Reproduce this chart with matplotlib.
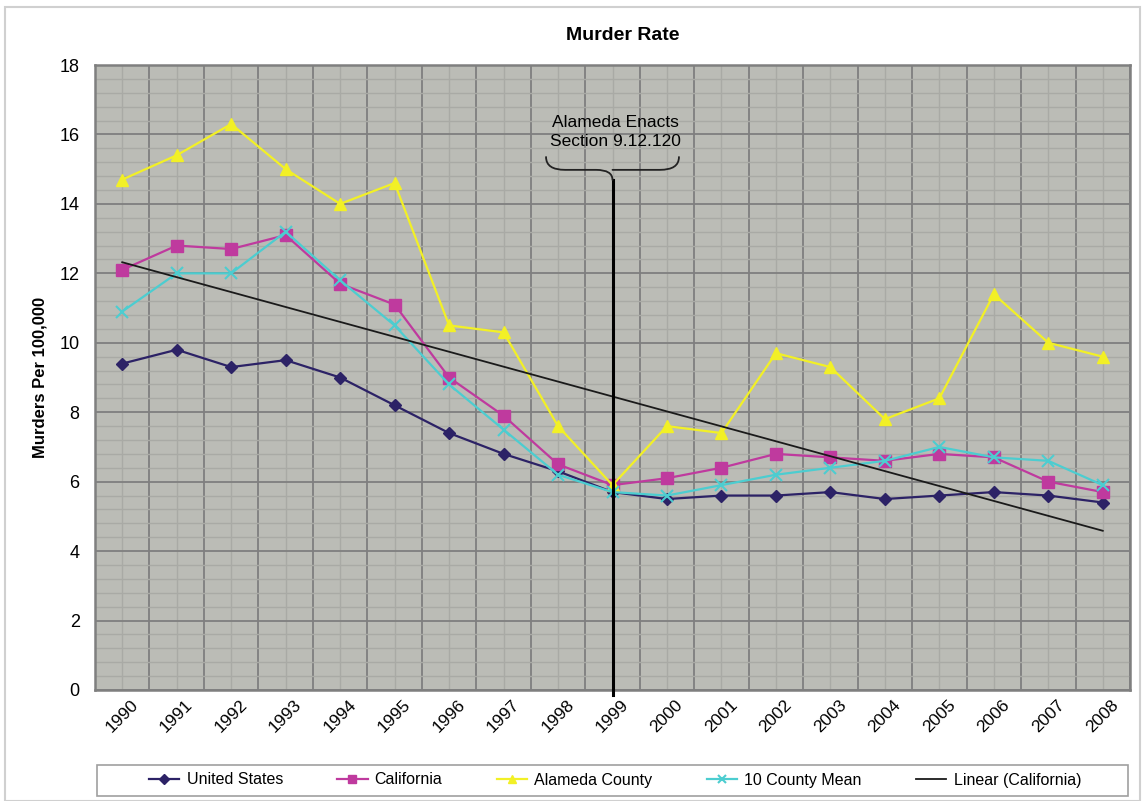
import numpy as np
import matplotlib.pyplot as plt
from matplotlib.path import Path
from matplotlib.patches import PathPatch, Rectangle

plt.rcParams['font.family'] = ['Liberation Sans', 'DejaVu Sans']

years = ['1990', '1991', '1992', '1993', '1994', '1995', '1996', '1997', '1998', '1999',
         '2000', '2001', '2002', '2003', '2004', '2005', '2006', '2007', '2008']
us = [9.4, 9.8, 9.3, 9.5, 9.0, 8.2, 7.4, 6.8, 6.3, 5.7, 5.5, 5.6, 5.6, 5.7, 5.5, 5.6, 5.7, 5.6, 5.4]
california = [12.1, 12.8, 12.7, 13.1, 11.7, 11.1, 9.0, 7.9, 6.5, 5.9, 6.1, 6.4, 6.8, 6.7, 6.6, 6.8, 6.7, 6.0, 5.7]
alameda = [14.7, 15.4, 16.3, 15.0, 14.0, 14.6, 10.5, 10.3, 7.6, 5.9, 7.6, 7.4, 9.7, 9.3, 7.8, 8.4, 11.4, 10.0, 9.6]
county10 = [10.9, 12.0, 12.0, 13.2, 11.8, 10.5, 8.8, 7.5, 6.2, 5.7, 5.6, 5.9, 6.2, 6.4, 6.6, 7.0, 6.7, 6.6, 5.9]
event_year = '1999'
event_text = 'Alameda Enacts\nSection 9.12.120'

x = np.arange(len(years))

fig = plt.figure(figsize=(11.46, 8.01), dpi=100)
ax = fig.add_axes([95/1146, 1-690/801, (1130-95)/1146, 625/801])
ax.set_facecolor('#bbbcb6')

# outer frame of the chart
fig.patches.append(Rectangle((5/1146, 0.0), 1135/1146, 1-7/801, transform=fig.transFigure,
                             fill=False, edgecolor='#d0d0d0', lw=1.5))

ax.plot(x, us, color='#2c2266', marker='D', ms=6, lw=1.6, label='United States', zorder=5)
ax.plot(x, california, color='#bf3a9e', marker='s', ms=8, lw=1.6, label='California', zorder=5)
ax.plot(x, alameda, color='#f2f026', marker='^', ms=8, lw=1.6, label='Alameda County', zorder=5)
ax.plot(x, county10, color='#4ccdd0', marker='x', ms=8, mew=1.5, lw=1.6, label='10 County Mean', zorder=5)

# linear trend of california
p = np.polyfit(x, california, 1)
ax.plot(x, np.polyval(p, x), color='#1a1a1a', lw=1.3, label='Linear (California)', zorder=6)

ax.set_xlim(-0.5, len(years) - 0.5)
ax.set_ylim(0, 18)

ax.set_xticks(np.arange(-0.5, len(years)), labels=[''] * (len(years) + 1))
ax.set_xticks(x, labels=years, minor=True)
ax.set_yticks(np.arange(0, 19, 2))
ax.set_yticks(np.arange(0, 18.01, 0.4), minor=True)
ax.tick_params(which='both', length=0)
ax.tick_params(axis='y', labelsize=13, pad=11)
ax.tick_params(axis='x', which='minor', labelsize=12.5, pad=5, labelrotation=45)
for lab in ax.get_xticklabels(minor=True):
    lab.set_ha('center')
    lab.set_va('top')

ax.grid(which='major', color='#7f7f7f', lw=1.3, zorder=0)
ax.grid(which='minor', color='#a9aaa5', lw=1.0, zorder=0)
ax.set_axisbelow(True)
for s in ax.spines.values():
    s.set_color('#7f7f7f')
    s.set_linewidth(1.8)

ax.set_title('Murder Rate', fontsize=14, fontweight='bold', pad=18, x=0.51)
ax.set_ylabel('Murders Per 100,000', fontsize=12, fontweight='bold', labelpad=9)

# event marker line and brace
ex = years.index(event_year)
top, mid, tip = 15.35, 14.98, 14.69
ax.plot([ex, ex], [-0.15, tip], color='black', lw=2.2, clip_on=False, zorder=7)
w = 1.22
verts = [(ex - w, top), (ex - w, mid), (ex - w + 0.35, mid),
         (ex - 0.3, mid), (ex, mid), (ex, tip),
         (ex, mid), (ex + 0.3, mid),
         (ex + w - 0.35, mid), (ex + w, mid), (ex + w, top)]
codes = [Path.MOVETO, Path.CURVE3, Path.CURVE3,
         Path.LINETO, Path.CURVE3, Path.CURVE3,
         Path.MOVETO, Path.CURVE3,
         Path.LINETO, Path.CURVE3, Path.CURVE3]
ax.add_patch(PathPatch(Path(verts, codes), fill=False, edgecolor='#222222', lw=1.3,
                       capstyle='round', zorder=7))
ax.text(ex + 0.05, 16.07, event_text, ha='center', va='center', fontsize=12.5, linespacing=1.4, zorder=7)

# legend, centred in a box spanning the plot width
fig.patches.append(Rectangle((97/1146, 1-796/801), (1128-97)/1146, 31/801, transform=fig.transFigure,
                             facecolor='white', edgecolor='#a0a0a0', lw=1.2))
leg = fig.legend(loc='center', bbox_to_anchor=(615/1146, 1-780/801),
                 ncol=5, fontsize=11.5, frameon=False,
                 handlelength=1.9, handletextpad=0.45, columnspacing=3.4)
for h in leg.legend_handles:
    h.set_markersize(5.5)

fig.savefig('out.png', dpi=100)
